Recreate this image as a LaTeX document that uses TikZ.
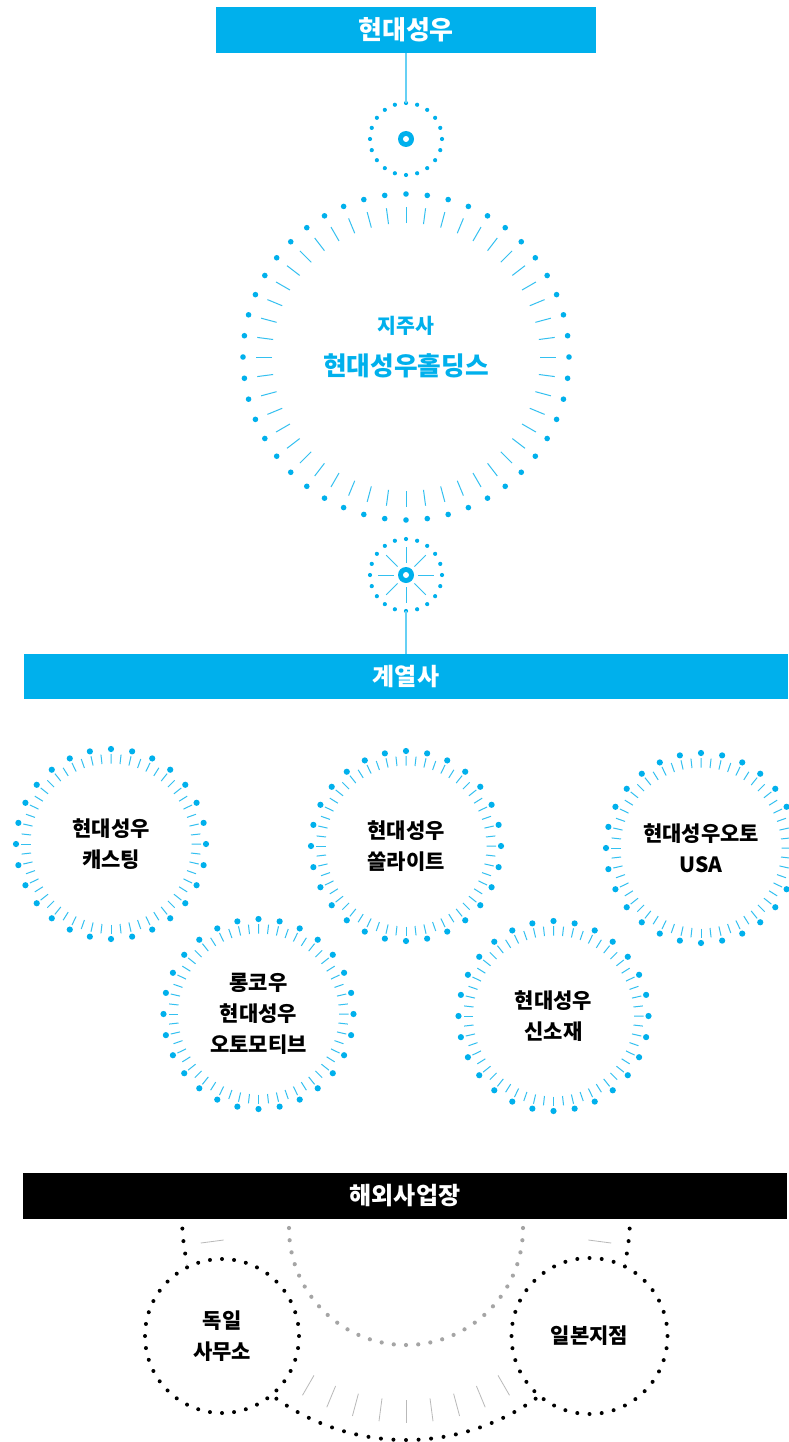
\documentclass[tikz,border=0pt]{standalone}
\usepackage{fontspec}
\setmainfont{Noto Sans CJK KR}
\definecolor{hblue}{RGB}{0,176,236}
\definecolor{tgray}{RGB}{185,185,185}
\definecolor{dgray}{RGB}{165,165,165}
\begin{document}
\begin{tikzpicture}[x=1pt,y=-1pt,
  bluebar/.style={fill=hblue, inner sep=0, text=white},
  holder/.style={circle, inner sep=0, minimum size=#1},
  bluetick/.style={draw=hblue!80, line width=1pt},
  graytick/.style={draw=tgray, line width=0.8pt},
  conn/.style={draw=hblue!60, line width=1.2pt},
  gtext/.style={align=center, text=black, font=\bfseries\fontsize{21}{31}\selectfont}]
\path[use as bounding box, fill=white] (0,0) rectangle (788,1442);

% ---------- top ----------
\node[bluebar, minimum width=380pt, minimum height=46pt, font=\bfseries\fontsize{26}{30}\selectfont] (bar1) at (406,30) {현대성우};

\node[holder=72pt] (c1) at (406,139) {};
\foreach \i in {0,...,19} \fill[hblue, shift={(406,139)}] (90+\i*18:36) circle (2.1pt);
\fill[hblue] (c1.center) circle (8pt);
\fill[white] (c1.center) circle (3pt);
\draw[conn] (bar1.south) -- (c1.north);

% ---------- holding ----------
\node[holder=326pt] (hold) at (406,357) {};
\foreach \i in {0,...,47} {
  \fill[hblue, shift={(406,357)}] (90+\i*7.5:163) circle (2.8pt);
  \draw[bluetick, shift={(406,357)}] (90+\i*7.5:134) -- (90+\i*7.5:150);
}
\node[text=hblue, font=\bfseries\fontsize{20.5}{24}\selectfont] (t1) at (406,326) {지주사};
\node[text=hblue, font=\bfseries\fontsize{25.7}{30}\selectfont] (t2) at (406,366) {현대성우홀딩스};

% ---------- small circle 2 ----------
\node[holder=72pt] (c2) at (406,575) {};
\foreach \i in {0,...,19} \fill[hblue, shift={(406,575)}] (90+\i*18:36) circle (2.1pt);
\foreach \i in {0,...,7} \draw[bluetick, shift={(406,575)}] (\i*45:12) -- (\i*45:28);
\fill[hblue] (c2.center) circle (8pt);
\fill[white] (c2.center) circle (3pt);

\node[bluebar, minimum width=764pt, minimum height=45pt, font=\bfseries\fontsize{24}{28}\selectfont] (bar2) at (406,676.5) {계열사};
\draw[conn] (c2.south) -- (bar2.north);

% ---------- affiliates ----------
\foreach \n/\x/\y in {g1/111/844, g2/406/846, g3/701/848, g4/258.5/1014, g5/553.5/1016} {
  \node[holder=190pt] (\n) at (\x,\y) {};
  \foreach \i in {0,...,27} \fill[hblue, shift={(\x,\y)}] (90+\i*12.857:95) circle (3.1pt);
  \foreach \i in {0,...,55} \draw[bluetick, shift={(\x,\y)}] (90+\i*6.4286:80.5) -- (90+\i*6.4286:90);
}
\node[gtext] (l1) at (g1) {현대성우\\캐스팅};
\node[gtext] (l2) at (g2) {현대성우\\쏠라이트};
\node[gtext] (l3) at (g3) {현대성우오토\\USA};
\node[gtext] (l4) at (g4) {롱코우\\현대성우\\오토모티브};
\node[gtext] (l5) at (g5) {현대성우\\신소재};

% ---------- overseas ----------
\node[fill=black, inner sep=0, minimum width=764pt, minimum height=46pt, text=white, font=\bfseries\fontsize{24}{28}\selectfont] (bar3) at (405,1196) {해외사업장};

\begin{scope}
\clip (0,1219) rectangle (788,1442);
\foreach \i in {0,...,47} \draw[graytick, shift={(406,1216)}] (\i*7.5:184) -- (\i*7.5:207);
\foreach \i in {0,...,59} \fill[dgray, shift={(406,1228)}] (90+\i*6:117) circle (2.1pt);
\foreach \i in {0,...,111} \fill[black, shift={(406,1216)}] (90+\i*3.2143:224) circle (2pt);
\node[holder=160pt, fill=white] (de) at (222,1336) {};
\node[holder=160pt, fill=white] (jp) at (589.5,1336) {};
\foreach \i in {0,...,39} {
  \fill[black, shift={(222,1336)}] (90+\i*9:77) circle (2pt);
  \fill[black, shift={(589.5,1336)}] (90+\i*9:78) circle (2pt);
}
\end{scope}
\node[gtext] (l6) at (de) {독일\\사무소};
\node[gtext] (l7) at (jp) {일본지점};
\end{tikzpicture}
\end{document}
